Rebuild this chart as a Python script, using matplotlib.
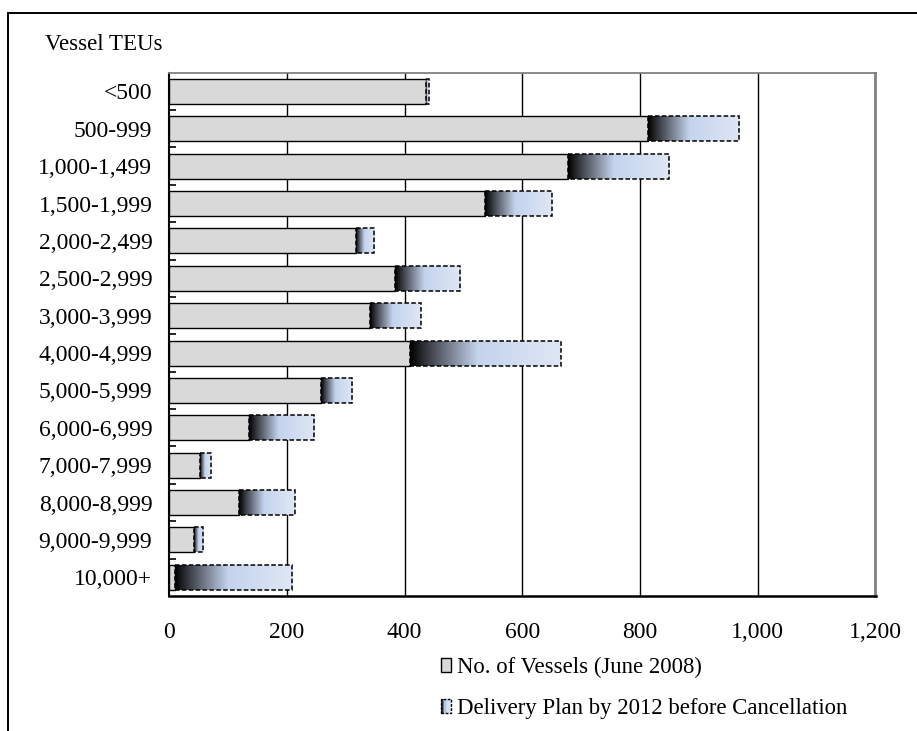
import numpy as np
import matplotlib
matplotlib.use('Agg')
import matplotlib.pyplot as plt
from matplotlib.colors import LinearSegmentedColormap
from matplotlib.patches import Patch, Rectangle
from matplotlib.legend_handler import HandlerPatch

plt.rcParams['font.family'] = ['Liberation Serif', 'DejaVu Serif']

categories = ['<500', '500-999', '1,000-1,499', '1,500-1,999', '2,000-2,499',
              '2,500-2,999', '3,000-3,999', '4,000-4,999', '5,000-5,999',
              '6,000-6,999', '7,000-7,999', '8,000-8,999', '9,000-9,999', '10,000+']
vessels = [437, 814, 677, 537, 318, 384, 342, 409, 258, 136, 53, 119, 42, 10]
delivery = [4, 155, 172, 113, 31, 111, 86, 256, 53, 111, 18, 95, 16, 199]
xticks = [0, 200, 400, 600, 800, 1000, 1200]
xtick_labels = ['0', '200', '400', '600', '800', '1,000', '1,200']

FS = 17
bar_h = 0.67

# black -> grey-blue -> light blue gradient used by the delivery bars
grad = LinearSegmentedColormap.from_list('grad', [
    (0.0, '#000000'), (0.12, '#3a3d45'), (0.28, '#7f8798'),
    (0.45, '#c4d4ee'), (0.7, '#d0dcf0'), (1.0, '#e0e7f4')])


class GradientHandler(HandlerPatch):
    # legend key drawn as a few vertical strips of the gradient plus a dashed border
    def create_artists(self, legend, orig_handle, xdescent, ydescent, width, height,
                       fontsize, trans):
        n = 6
        arts = []
        for i in range(n):
            r = Rectangle((-xdescent + width * i / n, -ydescent), width / n, height,
                          facecolor=grad((i + 0.5) / n), edgecolor='none', transform=trans)
            arts.append(r)
        border = Rectangle((-xdescent, -ydescent), width, height, fill=False,
                           edgecolor='black', lw=1.0, linestyle=(0, (2, 1)), transform=trans)
        arts.append(border)
        return arts


fig = plt.figure(figsize=(9.17, 7.31), dpi=100)
ax = fig.add_axes([169 / 917, 1 - 596 / 731, (875.5 - 169) / 917, (596 - 72.7) / 731])

y = np.arange(len(categories))

for xv in xticks[1:-1]:
    ax.axvline(xv, color='black', lw=1.0, zorder=1)

ax.barh(y, vessels, height=bar_h, color='#d9d9d9', edgecolor='black', lw=1.0, zorder=3)
bars = ax.barh(y, delivery, left=vessels, height=bar_h, facecolor='none',
               edgecolor='black', lw=1.1, linestyle=(0, (3, 1.5)), zorder=4)

gradient = np.linspace(0, 1, 256).reshape(1, -1)
for rect in bars:
    x0 = rect.get_x()
    w = rect.get_width()
    yb = rect.get_y()
    h = rect.get_height()
    im = ax.imshow(gradient, cmap=grad, aspect='auto', interpolation='bilinear',
                   extent=[x0, x0 + w, yb + h, yb], zorder=3.5)
    im.set_clip_path(rect)

ax.set_xlim(0, 1200)
ax.set_ylim(len(categories) - 0.5, -0.5)
ax.set_xticks(xticks)
ax.set_xticklabels(xtick_labels, fontsize=FS)
ax.set_yticks(y)
ax.set_yticklabels(categories, fontsize=FS)
ax.set_yticks(np.arange(len(categories) - 1) + 0.5, minor=True)
ax.tick_params(axis='x', length=0, pad=19)
ax.tick_params(axis='y', which='major', length=0, pad=12)
ax.tick_params(axis='y', which='minor', direction='in', length=5, width=1.2)

ax.spines['left'].set_linewidth(1.5)
ax.spines['bottom'].set_linewidth(1.8)
ax.spines['top'].set_color('#808080')
ax.spines['right'].set_color('#808080')
ax.spines['top'].set_linewidth(1.3)
ax.spines['right'].set_linewidth(2.0)

fig.text(45 / 917, 1 - 45 / 731, 'Vessel TEUs', fontsize=FS - 0.5, ha='left', va='center')

gray_key = Patch(facecolor='#d9d9d9', edgecolor='black', lw=1.0,
                 label='No. of Vessels (June 2008)')
plan_key = Patch(facecolor='#9aa8c4', label='Delivery Plan by 2012 before Cancellation')
fig.legend(handles=[gray_key, plan_key], loc='upper left',
           bbox_to_anchor=(441 / 917, 1 - 657 / 731),
           handler_map={plan_key: GradientHandler()},
           frameon=False, fontsize=16.4, handlelength=0.42, handleheight=0.6,
           handletextpad=0.3, labelspacing=0.88, borderpad=0, borderaxespad=0)

# outer frame (bottom and right edges fall outside the picture)
fig.add_artist(Rectangle((8 / 917, -0.05), 1.2, 1 - 12.7 / 731 + 0.05,
                         transform=fig.transFigure, fill=False, lw=1.4,
                         edgecolor='black'))

fig.savefig('out.png', dpi=100)
